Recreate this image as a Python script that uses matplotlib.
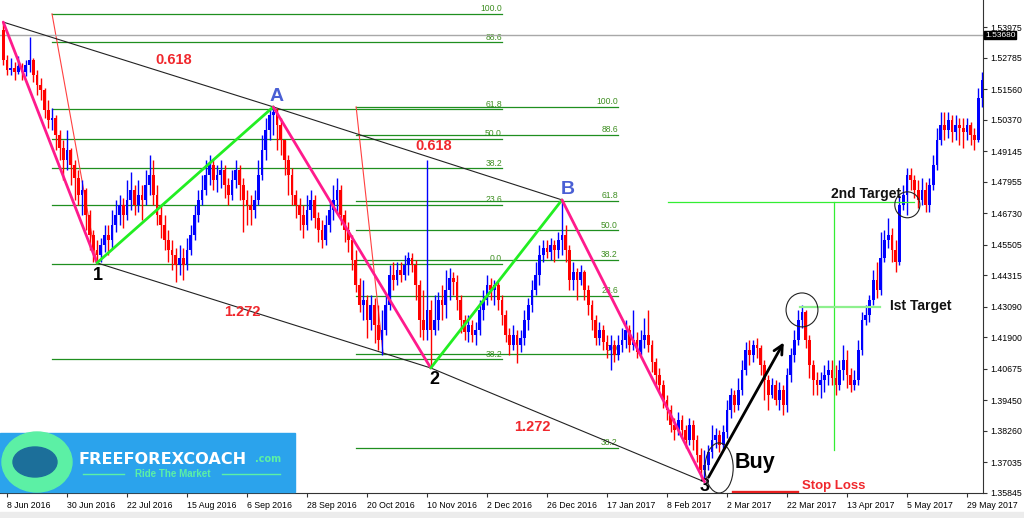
import matplotlib.pyplot as plt
import matplotlib.patches as patches
import matplotlib.transforms as mtransforms
import numpy as np

plt.rcParams['font.family'] = ['Liberation Sans', 'DejaVu Sans']

# daily candles, first one sits one bar left of "8 Jun 2016"
first_idx = -1
first_open = 1.5386
closes = [
    1.5270, 1.5231, 1.5239, 1.5223, 1.5246, 1.5223, 1.5250, 1.5270, 1.5211, 1.5172,
    1.5153, 1.5075, 1.5036, 1.5044, 1.4978, 1.4927, 1.4881, 1.4920, 1.4861, 1.4811,
    1.4745, 1.4764, 1.4667, 1.4589, 1.4531, 1.4511, 1.4550, 1.4589, 1.4570, 1.4628,
    1.4667, 1.4706, 1.4667, 1.4725, 1.4764, 1.4706, 1.4745, 1.4725, 1.4784, 1.4822,
    1.4745, 1.4667, 1.4628, 1.4570, 1.4531, 1.4511, 1.4473, 1.4500, 1.4473, 1.4531,
    1.4589, 1.4667, 1.4725, 1.4764, 1.4822, 1.4861, 1.4803, 1.4822, 1.4842, 1.4784,
    1.4745, 1.4803, 1.4842, 1.4784, 1.4725, 1.4706, 1.4686, 1.4725, 1.4822, 1.4920,
    1.4997, 1.5056, 1.5067, 1.5017, 1.4958, 1.4881, 1.4822, 1.4745, 1.4706, 1.4667,
    1.4628, 1.4686, 1.4725, 1.4655, 1.4609, 1.4570, 1.4628, 1.4686, 1.4725, 1.4764,
    1.4667, 1.4609, 1.4570, 1.4492, 1.4395, 1.4317, 1.4336, 1.4259, 1.4317, 1.4239,
    1.4181, 1.4220, 1.4317, 1.4434, 1.4414, 1.4453, 1.4434, 1.4473, 1.4500, 1.4473,
    1.4395, 1.4259, 1.4220, 1.4297, 1.4220, 1.4259, 1.4336, 1.4317, 1.4375, 1.4422,
    1.4406, 1.4336, 1.4259, 1.4212, 1.4239, 1.4200, 1.4220, 1.4297, 1.4336, 1.4395,
    1.4375, 1.4395, 1.4336, 1.4278, 1.4200, 1.4161, 1.4200, 1.4161, 1.4188, 1.4259,
    1.4317, 1.4375, 1.4434, 1.4511, 1.4538, 1.4523, 1.4550, 1.4531, 1.4570, 1.4589,
    1.4531, 1.4414, 1.4445, 1.4414, 1.4445, 1.4375, 1.4317, 1.4259, 1.4188, 1.4220,
    1.4173, 1.4142, 1.4161, 1.4123, 1.4161, 1.4181, 1.4220, 1.4161, 1.4181, 1.4134,
    1.4181, 1.4200, 1.4161, 1.4095, 1.4045, 1.4006, 1.3948, 1.3909, 1.3850, 1.3831,
    1.3870, 1.3831, 1.3792, 1.3850, 1.3792, 1.3734, 1.3675, 1.3695, 1.3745, 1.3792,
    1.3811, 1.3773, 1.3823, 1.3909, 1.3967, 1.3928, 1.3986, 1.4064, 1.4142, 1.4123,
    1.4161, 1.4150, 1.4084, 1.4025, 1.3967, 1.4006, 1.3948, 1.3986, 1.3928, 1.4045,
    1.4123, 1.4181, 1.4259, 1.4289, 1.4181, 1.4084, 1.4025, 1.4006, 1.4025, 1.4045,
    1.4064, 1.4033, 1.4006, 1.4064, 1.4103, 1.4045, 1.4006, 1.4025, 1.4142, 1.4259,
    1.4278, 1.4336, 1.4414, 1.4375, 1.4500, 1.4570, 1.4589, 1.4531, 1.4484, 1.4706,
    1.4745, 1.4822, 1.4803, 1.4764, 1.4725, 1.4764, 1.4706, 1.4784, 1.4861, 1.4958,
    1.5017, 1.4997, 1.5036, 1.4989, 1.5017, 1.5005, 1.4989, 1.5017, 1.4978, 1.4958,
    1.5122, 1.5192,
]
highs = [
    1.5417, 1.5289, 1.5277, 1.5262, 1.5285, 1.5258, 1.5270, 1.5359, 1.5277, 1.5231,
    1.5200, 1.5161, 1.5114, 1.5083, 1.5056, 1.4997, 1.4958, 1.4997, 1.4927, 1.4881,
    1.4842, 1.4803, 1.4772, 1.4686, 1.4609, 1.4570, 1.4577, 1.4628, 1.4628, 1.4686,
    1.4725, 1.4745, 1.4733, 1.4803, 1.4834, 1.4784, 1.4803, 1.4784, 1.4842, 1.4900,
    1.4881, 1.4784, 1.4706, 1.4667, 1.4609, 1.4570, 1.4538, 1.4550, 1.4538, 1.4577,
    1.4628, 1.4706, 1.4764, 1.4822, 1.4881, 1.4900, 1.4881, 1.4861, 1.4881, 1.4861,
    1.4811, 1.4842, 1.4881, 1.4861, 1.4811, 1.4764, 1.4745, 1.4764, 1.4881, 1.4978,
    1.5044, 1.5083, 1.5087, 1.5083, 1.5044, 1.4958, 1.4900, 1.4850, 1.4764, 1.4733,
    1.4706, 1.4745, 1.4764, 1.4745, 1.4678, 1.4647, 1.4667, 1.4725, 1.4784, 1.4811,
    1.4784, 1.4686, 1.4640, 1.4589, 1.4531, 1.4422, 1.4414, 1.4356, 1.4356, 1.4344,
    1.4317, 1.4297, 1.4356, 1.4473, 1.4484, 1.4484, 1.4484, 1.4511, 1.4523, 1.4519,
    1.4492, 1.4414, 1.4375, 1.4881, 1.4336, 1.4356, 1.4367, 1.4395, 1.4453, 1.4461,
    1.4445, 1.4434, 1.4356, 1.4278, 1.4278, 1.4259, 1.4251, 1.4336, 1.4375, 1.4434,
    1.4422, 1.4414, 1.4406, 1.4356, 1.4297, 1.4227, 1.4239, 1.4220, 1.4220, 1.4297,
    1.4344, 1.4414, 1.4484, 1.4550, 1.4570, 1.4570, 1.4577, 1.4570, 1.4601, 1.4725,
    1.4628, 1.4550, 1.4484, 1.4461, 1.4473, 1.4453, 1.4395, 1.4336, 1.4278, 1.4251,
    1.4239, 1.4200, 1.4200, 1.4181, 1.4200, 1.4227, 1.4259, 1.4239, 1.4297, 1.4212,
    1.4220, 1.4266, 1.4297, 1.4181, 1.4111, 1.4072, 1.4025, 1.3967, 1.3928, 1.3877,
    1.3901, 1.3889, 1.3850, 1.3877, 1.3870, 1.3811, 1.3761, 1.3753, 1.3773, 1.3850,
    1.3838, 1.3831, 1.3850, 1.3948, 1.3994, 1.3986, 1.4033, 1.4103, 1.4173, 1.4181,
    1.4181, 1.4188, 1.4161, 1.4103, 1.4045, 1.4033, 1.4025, 1.4017, 1.4006, 1.4072,
    1.4150, 1.4220, 1.4297, 1.4317, 1.4297, 1.4200, 1.4103, 1.4056, 1.4056, 1.4084,
    1.4103, 1.4103, 1.4084, 1.4103, 1.4161, 1.4142, 1.4072, 1.4064, 1.4181, 1.4289,
    1.4317, 1.4356, 1.4453, 1.4484, 1.4601, 1.4609, 1.4655, 1.4616, 1.4570, 1.4745,
    1.4784, 1.4850, 1.4850, 1.4822, 1.4803, 1.4811, 1.4795, 1.4811, 1.4900, 1.5005,
    1.5067, 1.5067, 1.5067, 1.5056, 1.5056, 1.5044, 1.5044, 1.5044, 1.5028, 1.5005,
    1.5161, 1.5223,
]
lows = [
    1.5250, 1.5211, 1.5211, 1.5192, 1.5215, 1.5192, 1.5207, 1.5223, 1.5184, 1.5133,
    1.5114, 1.5044, 1.5005, 1.4997, 1.4920, 1.4881, 1.4803, 1.4842, 1.4784, 1.4725,
    1.4706, 1.4667, 1.4609, 1.4531, 1.4484, 1.4480, 1.4484, 1.4523, 1.4511, 1.4538,
    1.4601, 1.4628, 1.4616, 1.4647, 1.4686, 1.4667, 1.4678, 1.4647, 1.4706, 1.4745,
    1.4706, 1.4628, 1.4577, 1.4531, 1.4484, 1.4453, 1.4406, 1.4434, 1.4414, 1.4453,
    1.4511, 1.4570, 1.4640, 1.4706, 1.4745, 1.4784, 1.4764, 1.4756, 1.4772, 1.4733,
    1.4706, 1.4725, 1.4772, 1.4725, 1.4601, 1.4628, 1.4628, 1.4655, 1.4706, 1.4803,
    1.4881, 1.4958, 1.4978, 1.4920, 1.4900, 1.4822, 1.4745, 1.4706, 1.4655, 1.4609,
    1.4577, 1.4609, 1.4647, 1.4616, 1.4562, 1.4538, 1.4550, 1.4601, 1.4647, 1.4678,
    1.4628, 1.4562, 1.4523, 1.4453, 1.4367, 1.4289, 1.4259, 1.4188, 1.4220, 1.4169,
    1.4142, 1.4123, 1.4200, 1.4297, 1.4375, 1.4395, 1.4406, 1.4414, 1.4434, 1.4445,
    1.4336, 1.4192, 1.4181, 1.4181, 1.4071, 1.4200, 1.4220, 1.4259, 1.4266, 1.4336,
    1.4356, 1.4297, 1.4208, 1.4181, 1.4173, 1.4173, 1.4161, 1.4200, 1.4259, 1.4317,
    1.4336, 1.4317, 1.4297, 1.4239, 1.4173, 1.4123, 1.4142, 1.4091, 1.4134, 1.4161,
    1.4220, 1.4289, 1.4356, 1.4395, 1.4484, 1.4500, 1.4492, 1.4484, 1.4500, 1.4511,
    1.4484, 1.4375, 1.4375, 1.4336, 1.4395, 1.4336, 1.4278, 1.4220, 1.4161, 1.4161,
    1.4142, 1.4111, 1.4064, 1.4095, 1.4103, 1.4134, 1.4150, 1.4134, 1.4142, 1.4111,
    1.4123, 1.4150, 1.4134, 1.4056, 1.4006, 1.3978, 1.3916, 1.3870, 1.3823, 1.3792,
    1.3811, 1.3799, 1.3761, 1.3773, 1.3753, 1.3706, 1.3644, 1.3628, 1.3675, 1.3721,
    1.3761, 1.3745, 1.3753, 1.3799, 1.3877, 1.3901, 1.3909, 1.3967, 1.4045, 1.4084,
    1.4095, 1.4111, 1.4045, 1.3948, 1.3909, 1.3955, 1.3928, 1.3909, 1.3889, 1.3901,
    1.4017, 1.4095, 1.4161, 1.4227, 1.4150, 1.4033, 1.3967, 1.3967, 1.3955, 1.3978,
    1.4006, 1.4006, 1.3967, 1.3986, 1.4025, 1.3994, 1.3978, 1.3986, 1.4006, 1.4123,
    1.4239, 1.4250, 1.4317, 1.4344, 1.4356, 1.4484, 1.4538, 1.4484, 1.4445, 1.4473,
    1.4686, 1.4667, 1.4764, 1.4733, 1.4694, 1.4706, 1.4678, 1.4678, 1.4764, 1.4842,
    1.4939, 1.4958, 1.4966, 1.4950, 1.4958, 1.4939, 1.4927, 1.4958, 1.4939, 1.4920,
    1.4950, 1.5087,
]

date_labels = ['8 Jun 2016', '30 Jun 2016', '22 Jul 2016', '15 Aug 2016', '6 Sep 2016',
               '28 Sep 2016', '20 Oct 2016', '10 Nov 2016', '2 Dec 2016', '26 Dec 2016',
               '17 Jan 2017', '8 Feb 2017', '2 Mar 2017', '22 Mar 2017', '13 Apr 2017',
               '5 May 2017', '29 May 2017']
bars_per_label = 16

price_ticks = [1.53975, 1.52785, 1.51560, 1.50370, 1.49145, 1.47955, 1.46730, 1.45505,
               1.44315, 1.43090, 1.41900, 1.40675, 1.39450, 1.38260, 1.37035, 1.35845]
last_price = 1.53680

# swing points 0,1,A,2,B,3 (bar index, price)
pivot_idx = [-1, 24, 71, 113, 148, 186]
pivot_px = [1.5417, 1.4480, 1.5087, 1.4071, 1.4725, 1.3628]

# two fibonacci retracement tools: (start bar, end bar, 100% price, 0% price, bar of the 0 anchor)
fib_levels = [100.0, 88.6, 61.8, 50.0, 38.2, 23.6, 0.0, -38.2]
fib_tools = [(12, 132, 1.5449, 1.4476, 24.0), (93.1, 162.9, 1.5087, 1.4126, 100.3)]

target1 = 1.4309
target2 = 1.4717
stop_loss = 1.3589

# ---------------------------------------------------------------
fig = plt.figure(figsize=(10.24, 5.18), dpi=100)
ax = fig.add_axes([0, 25 / 518, 983 / 1024, 493 / 518])

n = len(closes)
idx = np.arange(n) + first_idx
opens = np.array([first_open] + closes[:-1])
closes_a = np.array(closes)
up = closes_a >= opens
cols = np.where(up, '#0000ff', '#ff0000')

# fibonacci tools
fib_green = '#1f8f1f'
for x0, x1, p100, p0, x_anchor in fib_tools:
    for lv in fib_levels:
        p = p0 + (p100 - p0) * lv / 100.0
        ax.plot([x0, x1], [p, p], color=fib_green, lw=0.9, zorder=1)
        ax.text(x1, p + 0.0003, f'{abs(lv):.1f}', color='#3f8f22', fontsize=6.2,
                ha='right', va='bottom', zorder=1)
    ax.plot([x0, x_anchor], [p100, p0], color='#ff4040', lw=0.8, zorder=1)

# current price line
ax.axhline(last_price, color='#a8a8a8', lw=1.0, zorder=1)

# channel lines
ax.plot([pivot_idx[0], pivot_idx[2], pivot_idx[4]], [pivot_px[0], pivot_px[2], pivot_px[4]],
        color='#222222', lw=0.8, zorder=2)
ax.plot([pivot_idx[1], pivot_idx[3], pivot_idx[5]], [pivot_px[1], pivot_px[3], pivot_px[5]],
        color='#222222', lw=0.8, zorder=2)

# candles
ax.vlines(idx, lows, highs, colors=cols, lw=1.0, zorder=3)
body_lo = np.minimum(opens, closes_a)
body_h = np.maximum(np.abs(closes_a - opens), 0.00015)
ax.bar(idx, body_h, bottom=body_lo, width=0.72, color=cols, linewidth=0, zorder=3)

# zigzag legs
for k in range(len(pivot_idx) - 1):
    c = '#ff1a8c' if k % 2 == 0 else '#22ee22'
    ax.plot(pivot_idx[k:k + 2], pivot_px[k:k + 2], color=c, lw=2.0, zorder=4,
            solid_capstyle='round')

# target lines
ax.plot([176.3, 242], [target2, target2], color='#33ee33', lw=0.9, zorder=4)
ax.plot([220.5, 220.5], [target2, 1.3753], color='#33ee33', lw=0.9, zorder=4)
ax.plot([211.5, 232.8], [target1, target1], color='#8ef08e', lw=1.6, zorder=4)
ax.plot([193.6, 210.7], [stop_loss, stop_loss], color='#e82020', lw=2.4, zorder=4)

# circles
for cx, cy, w, h in [(212, 1.4297, 8.5, 0.0132), (240.1, 1.4706, 6.7, 0.0101),
                     (189.9, 1.3682, 7.5, 0.0195)]:
    ax.add_patch(patches.Ellipse((cx, cy), w, h, fill=False, edgecolor='#222222',
                                 lw=0.8, zorder=5))

# buy arrow
ax.annotate('', xy=(207.5, 1.4180), xytext=(186.7, 1.3636),
            arrowprops=dict(arrowstyle='->', lw=2.0, color='black', mutation_scale=16),
            zorder=5)

# labels
red = '#f0282d'
blue = '#4a5fd4'
ax.text(44.5, 1.5270, '0.618', color=red, fontsize=10.5, fontweight='bold', ha='center', va='center')
ax.text(113.9, 1.4935, '0.618', color=red, fontsize=10.5, fontweight='bold', ha='center', va='center')
ax.text(62.7, 1.4289, '1.272', color=red, fontsize=10.5, fontweight='bold', ha='center', va='center')
ax.text(140.0, 1.3842, '1.272', color=red, fontsize=10.5, fontweight='bold', ha='center', va='center')
ax.text(24.3, 1.4429, '1', color='black', fontsize=13, fontweight='bold', ha='center', va='center')
ax.text(113.9, 1.4025, '2', color='black', fontsize=13, fontweight='bold', ha='center', va='center')
ax.text(186.1, 1.3609, '3', color='black', fontsize=13, fontweight='bold', ha='center', va='center')
ax.text(72.0, 1.5126, 'A', color=blue, fontsize=14, fontweight='bold', ha='center', va='center')
ax.text(149.5, 1.4766, 'B', color=blue, fontsize=14, fontweight='bold', ha='center', va='center')
ax.text(199.5, 1.3702, 'Buy', color='black', fontsize=15.5, fontweight='bold', ha='center', va='center', zorder=6)
ax.text(212.0, 1.3613, 'Stop Loss', color=red, fontsize=9.5, fontweight='bold', ha='left', va='center')
ax.text(229.1, 1.4748, '2nd Target', color='#111111', fontsize=10, fontweight='bold', ha='center', va='center', zorder=6)
ax.text(243.7, 1.4313, 'Ist Target', color='#111111', fontsize=10, fontweight='bold', ha='center', va='center', zorder=6)

# axes styling
ax.set_xlim(-1.87, 260.27)
ax.set_ylim(1.35852, 1.5503)
for s in ['left', 'top']:
    ax.spines[s].set_visible(False)
ax.spines['right'].set_color('#333333')
ax.spines['bottom'].set_color('#333333')
ax.yaxis.tick_right()
ax.set_yticks(price_ticks)
ax.set_yticklabels([f'{p:.5f}' for p in price_ticks])
ax.set_xticks(np.arange(len(date_labels)) * bars_per_label)
ax.set_xticklabels(date_labels, ha='left')
ax.tick_params(axis='both', labelsize=6.3, length=3, width=0.8, color='#333333', pad=2)
ax.tick_params(axis='x', pad=3)

tr = mtransforms.blended_transform_factory(ax.transAxes, ax.transData)
ax.text(1.002, last_price - 0.0002, '1.53680', transform=tr, color='white', fontsize=6.0,
        ha='left', va='center', zorder=7, clip_on=False,
        bbox=dict(facecolor='black', edgecolor='black', pad=0.5))

# logo
W, H = 1024.0, 518.0
fig.patches.append(patches.Rectangle((0, (H - 492) / H), 295 / W, 59 / H,
                                     transform=fig.transFigure, color='#2ba3ec', zorder=8))
fig.patches.append(patches.Ellipse((37 / W, (H - 462) / H), 70 / W, 60 / H,
                                   transform=fig.transFigure, color='#5cf0a5', zorder=9))
fig.patches.append(patches.Ellipse((35 / W, (H - 462) / H), 44 / W, 30 / H,
                                   transform=fig.transFigure, color='#1c6f9a', zorder=10))
fig.text(79 / W, (H - 460) / H, 'FREEFOREXCOACH', color='white', fontsize=11.6,
         fontweight='bold', family='DejaVu Sans', ha='left', va='center', zorder=11)
fig.text(255 / W, (H - 459) / H, '.com', color='#5cf0a5', fontsize=7,
         fontweight='bold', family='DejaVu Sans', ha='left', va='center', zorder=11)
fig.text(173 / W, (H - 474) / H, 'Ride The Market', color='#5cf0a5', fontsize=7,
         fontweight='bold', ha='center', va='center', zorder=11)
for xa, xb in [(83, 124), (222, 280)]:
    fig.lines.append(plt.Line2D([xa / W, xb / W], [(H - 474) / H] * 2, transform=fig.transFigure,
                                color='#5cf0a5', lw=1, zorder=11))

fig.patches.append(patches.Rectangle((0, 0), 1, 6 / H, transform=fig.transFigure,
                                     color='#ececec', zorder=0))

fig.savefig('out.png', dpi=100)
